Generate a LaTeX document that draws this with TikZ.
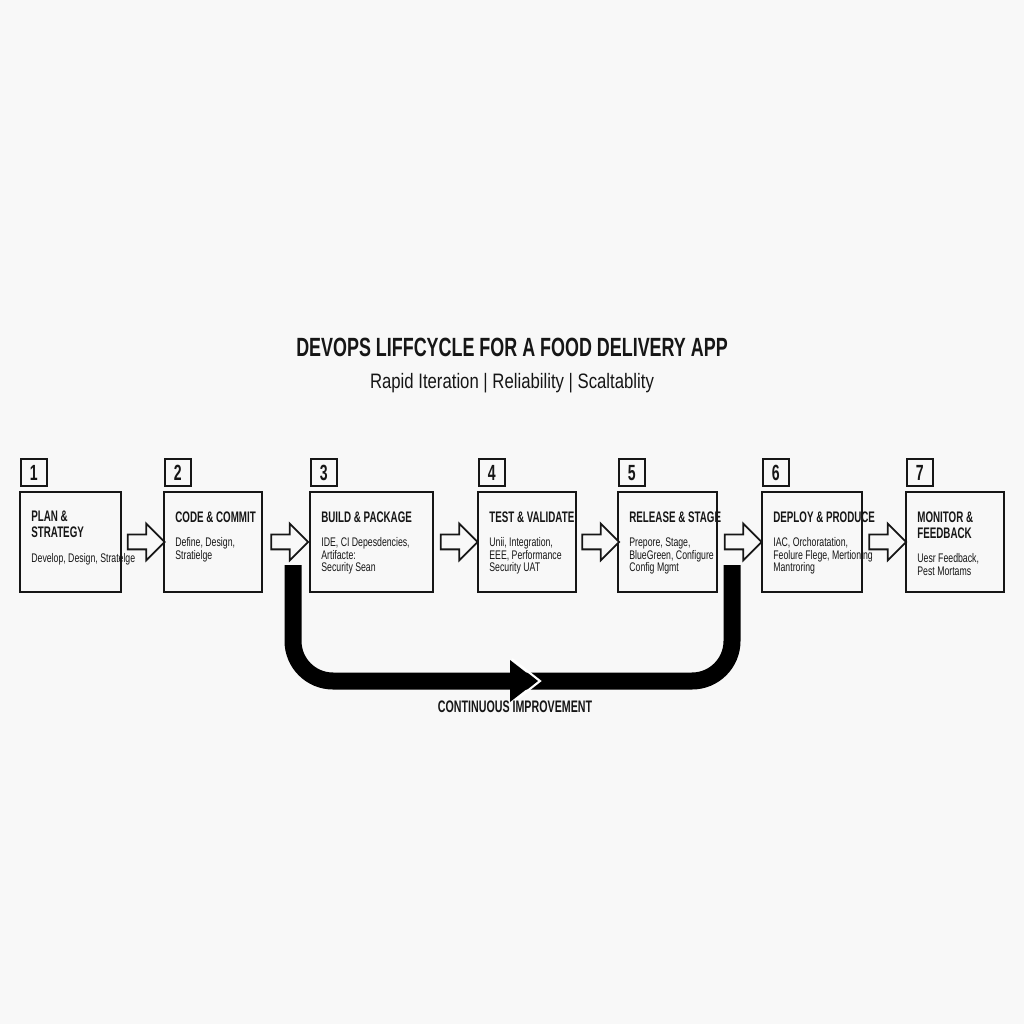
\documentclass[tikz,border=0pt]{standalone}
\usepackage{fontspec}
\setmainfont{Liberation Sans}
\newfontfamily\titlefont{Liberation Sans}[FakeStretch=0.68]
\newfontfamily\headfont{Liberation Sans}[FakeStretch=0.64]
\newfontfamily\bodyfont{Liberation Sans}[FakeStretch=0.7]
\newfontfamily\subfont{Liberation Sans}[FakeStretch=0.8]
\usepackage{tikz}
\usetikzlibrary{arrows,%
                shapes,positioning,calc}
\definecolor{bgcol}{RGB}{248,248,248}
\definecolor{ink}{RGB}{22,22,22}

\begin{document}
\begin{tikzpicture}[x=0.02cm, y=-0.02cm,
  stage/.style={draw=ink, line width=1pt, anchor=north west, minimum height=2cm, inner sep=0pt, outer sep=0pt},
  numbox/.style={draw=ink, line width=1pt, minimum width=0.52cm, minimum height=0.54cm, inner sep=0pt, text=ink, font=\headfont\bfseries\fontsize{12.5}{13}\selectfont},
  steptitle/.style={anchor=north west, align=left, inner sep=0pt, text=ink, font=\headfont\bfseries\fontsize{8.7}{9.1}\selectfont},
  stepbody/.style={anchor=north west, align=left, inner sep=0pt, text=ink, font=\bodyfont\fontsize{7.1}{7.1}\selectfont},
  blockarrow/.style={single arrow, draw=ink, fill=bgcol, line width=1pt, minimum height=0.74cm, inner sep=0.13cm, single arrow head extend=0.22cm},
  loopband/.style={draw=black, line width=0.34cm, rounded corners=0.8cm},
  looplabel/.style={inner sep=0pt, text=ink, font=\headfont\bfseries\fontsize{9.5}{10}\selectfont}]
%\useasboundingbox
\fill[bgcol] (0,0) rectangle (1024,1024);
\useasboundingbox (0,0) rectangle (1024,1024);

\node[anchor=base, inner sep=0pt, text=ink, font=\titlefont\bfseries\fontsize{15}{16}\selectfont] (title) at (512,356) {DEVOPS LIFFCYCLE FOR A FOOD DELIVERY APP};
\node[anchor=base, inner sep=0pt, text=ink, font=\subfont\fontsize{11.9}{12}\selectfont] (subtitle) at (512,388) {Rapid Iteration | Reliability | Scaltablity};

\node[stage, minimum width=2.02cm] (s1) at (20,492) {};
\node[stage, minimum width=1.96cm] (s2) at (164,492) {};
\node[stage, minimum width=2.46cm] (s3) at (310,492) {};
\node[stage, minimum width=1.96cm] (s4) at (478,492) {};
\node[stage, minimum width=1.98cm] (s5) at (618,492) {};
\node[stage, minimum width=2.00cm] (s6) at (762,492) {};
\node[stage, minimum width=1.96cm] (s7) at (906,492) {};

\node[numbox, above right=0.1cm and 0cm of s1.north west] (n1) {1};
\node[numbox, above right=0.1cm and 0cm of s2.north west] (n2) {2};
\node[numbox, above right=0.1cm and 0cm of s3.north west] (n3) {3};
\node[numbox, above right=0.1cm and 0cm of s4.north west] (n4) {4};
\node[numbox, above right=0.1cm and 0cm of s5.north west] (n5) {5};
\node[numbox, above right=0.1cm and 0cm of s6.north west] (n6) {6};
\node[numbox, above right=0.1cm and 0cm of s7.north west] (n7) {7};

\node[steptitle] (t1) at ($(s1.north west)+(11,19)$) {PLAN \&\\STRATEGY};
\node[steptitle] (t2) at ($(s2.north west)+(11,19)$) {CODE \& COMMIT};
\node[steptitle] (t3) at ($(s3.north west)+(11,19)$) {BUILD \& PACKAGE};
\node[steptitle] (t4) at ($(s4.north west)+(11,19)$) {TEST \& VALIDATE};
\node[steptitle] (t5) at ($(s5.north west)+(11,19)$) {RELEASE \& STAGE};
\node[steptitle] (t6) at ($(s6.north west)+(11,19)$) {DEPLOY \& PRODUCE};
\node[steptitle] (t7) at ($(s7.north west)+(11,19)$) {MONITOR \&\\FEEDBACK};

\node[stepbody] (d1) at ([yshift=-0.3cm]t1.south west) {Develop, Design, Stratelge};
\node[stepbody] (d2) at ([yshift=-0.3cm]t2.south west) {Define, Design,\\Stratielge};
\node[stepbody] (d3) at ([yshift=-0.3cm]t3.south west) {IDE, CI Depesdencies,\\Artifacte:\\Security Sean};
\node[stepbody] (d4) at ([yshift=-0.3cm]t4.south west) {Unii, Integration,\\EEE, Performance\\Security UAT};
\node[stepbody] (d5) at ([yshift=-0.3cm]t5.south west) {Prepore, Stage,\\BlueGreen, Configure\\Config Mgmt};
\node[stepbody] (d6) at ([yshift=-0.3cm]t6.south west) {IAC, Orchoratation,\\Feolure Flege, Mertioning\\Mantroring};
\node[stepbody] (d7) at ([yshift=-0.3cm]t7.south west) {Uesr Feedback,\\Pest Mortams};

\node[blockarrow] (a1) at ($(s1.east)!0.5!(s2.west)$) {};
\node[blockarrow] (a2) at ($(s2.east)!0.5!(s3.west)$) {};
\node[blockarrow] (a3) at ($(s3.east)!0.5!(s4.west)$) {};
\node[blockarrow] (a4) at ($(s4.east)!0.5!(s5.west)$) {};
\node[blockarrow] (a5) at ($(s5.east)!0.5!(s6.west)$) {};
\node[blockarrow] (a6) at ($(s6.east)!0.5!(s7.west)$) {};

\coordinate (lA) at (293,565);
\coordinate (lB) at (732,565);
\coordinate (lC) at (510,681);
\draw[loopband] (lA) |- (lC) -| (lB);
\draw[white, line width=1.2pt] ($(lC)+(2,-22)$) -- ($(lC)+(30,0)$) -- ($(lC)+(2,22)$);
\fill[black] ($(lC)+(0,-21)$) -- ($(lC)+(27,0)$) -- ($(lC)+(0,21)$) -- cycle;
\node[looplabel] (ci) at (515,707) {CONTINUOUS IMPROVEMENT};
\end{tikzpicture}
\end{document}
